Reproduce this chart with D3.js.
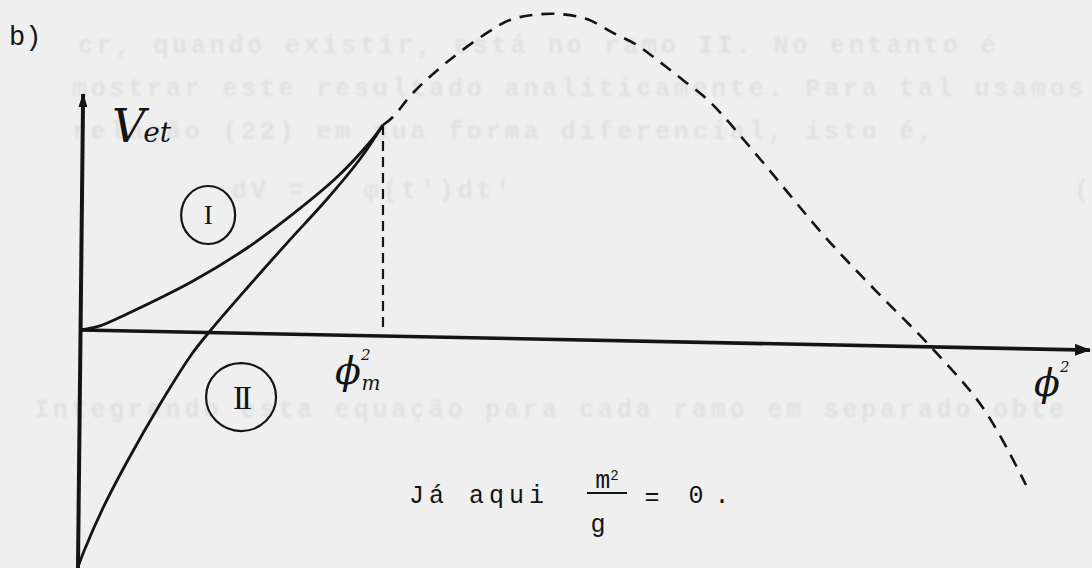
<!DOCTYPE html>
<html>
<head>
<meta charset="utf-8">
<script src="https://cdn.jsdelivr.net/npm/d3@7"></script>
<style>
  html, body { margin: 0; padding: 0; background: #efefef; }
  svg { display: block; }
</style>
</head>
<body>
<svg id="fig" width="1092" height="568"></svg>
<script>
// Branch I: V_et(φ²) from the origin up to φ²_m (convex)
const branchI = [
  [0.000, 0.000], [0.063, 0.020], [0.152, 0.078], [0.371, 0.239],
  [0.550, 0.400], [0.702, 0.566], [0.848, 0.746], [0.957, 0.917], [1.000, 1.000]
];
// Branch II: rises from below the axis to the same point φ²_m (concave)
const branchII = [
  [-0.010, -1.156], [0.010, -1.078], [0.073, -0.868], [0.152, -0.644],
  [0.262, -0.361], [0.367, -0.117], [0.430, 0.000], [0.550, 0.205],
  [0.682, 0.424], [0.815, 0.639], [0.924, 0.834], [1.000, 1.000]
];
// Continuation beyond φ²_m (dashed)
const continuation = [
  [1.000, 1.000], [1.033, 1.039], [1.099, 1.156], [1.212, 1.307],
  [1.344, 1.449], [1.420, 1.512], [1.497, 1.537], [1.586, 1.541],
  [1.675, 1.517], [1.762, 1.449], [1.841, 1.390], [1.917, 1.307],
  [1.993, 1.220], [2.083, 1.112], [2.232, 0.863], [2.464, 0.454],
  [2.636, 0.185], [2.808, -0.073], [2.987, -0.380], [3.129, -0.756]
];
// Hand-drawn axes (slightly tilted)
const axisX = [[0.000, 0.000], [3.341, -0.098]];
const axisY = [[-0.010, -1.161], [0.007, 1.151]];
const phiM = 1.0;          // φ²_m
const branchLabels = [
  { name: "I",  at: [0.421, 0.561], rx: 27, ry: 29, size: 27 },
  { name: "II", at: [0.530, -0.327], rx: 35, ry: 34, size: 33 }
];
// Faint text showing through from the reverse of the page
const reverseLines = [
  { t: "cr, quando existir, está no ramo II. No entanto é", x: 78, y: 53 },
  { t: "mostrar este resultado analiticamente. Para tal usamos", x: 72, y: 96 },
  { t: "relação (22) em sua forma diferencial, isto é,", x: 72, y: 139 },
  { t: "dV   = -   φ(t')dt'", x: 232, y: 198 },
  { t: "(", x: 1074, y: 198 },
  { t: "Integrando esta equação para cada ramo em separado obte", x: 34, y: 417 }
];

const svg = d3.select("#fig");
const W = 1092, H = 568;
const ink = "#141414";

const x = d3.scaleLinear().domain([0, 1]).range([81, 383]);
const y = d3.scaleLinear().domain([0, 1]).range([330, 125]);

const defs = svg.append("defs");
defs.append("filter").attr("id", "bleed")
  .append("feGaussianBlur").attr("stdDeviation", 1.3);
defs.append("marker").attr("id", "headX")
  .attr("viewBox", "0 0 16 12").attr("refX", 15).attr("refY", 6)
  .attr("markerWidth", 16).attr("markerHeight", 12)
  .attr("markerUnits", "userSpaceOnUse").attr("orient", "auto")
  .append("path").attr("d", "M0,0 L16,6 L0,12 Z").attr("fill", ink);
defs.append("marker").attr("id", "headY")
  .attr("viewBox", "0 0 14 9").attr("refX", 13).attr("refY", 4.5)
  .attr("markerWidth", 14).attr("markerHeight", 9)
  .attr("markerUnits", "userSpaceOnUse").attr("orient", "auto")
  .append("path").attr("d", "M0,0 L14,4.5 L0,9 Z").attr("fill", ink);

// paper
svg.append("rect").attr("width", W).attr("height", H).attr("fill", "#efefef");

// reverse-side text
svg.append("g").attr("filter", "url(#bleed)")
  .selectAll("text").data(reverseLines).join("text")
  .attr("x", d => d.x).attr("y", d => d.y)
  .attr("font-family", "Liberation Mono, monospace")
  .attr("font-size", 25).attr("font-weight", "bold").attr("letter-spacing", 3.8)
  .attr("fill", "#e0e0e0")
  .text(d => d.t);

const lineGen = d3.line().x(d => x(d[0])).y(d => y(d[1]));
const curveGen = d3.line().x(d => x(d[0])).y(d => y(d[1])).curve(d3.curveCatmullRom.alpha(0.5));

// axes
svg.append("path").attr("d", lineGen(axisY))
  .attr("stroke", ink).attr("stroke-width", 4).attr("fill", "none")
  .attr("marker-end", "url(#headY)");
svg.append("path").attr("d", lineGen(axisX))
  .attr("stroke", ink).attr("stroke-width", 3.6).attr("fill", "none")
  .attr("marker-end", "url(#headX)");

// branches
svg.append("path").attr("d", curveGen(branchI))
  .attr("stroke", ink).attr("stroke-width", 2.8).attr("fill", "none");
svg.append("path").attr("d", curveGen(branchII))
  .attr("stroke", ink).attr("stroke-width", 2.8).attr("fill", "none");
svg.append("path").attr("d", curveGen(continuation))
  .attr("stroke", ink).attr("stroke-width", 2.6).attr("fill", "none")
  .attr("stroke-dasharray", "13 9");

// drop line at φ²_m
svg.append("path").attr("d", lineGen([[phiM, 1], [phiM, 0]]))
  .attr("stroke", ink).attr("stroke-width", 2.2).attr("fill", "none")
  .attr("stroke-dasharray", "10 6");

// circled branch labels
const bl = svg.selectAll("g.branch").data(branchLabels).join("g")
  .attr("class", "branch")
  .attr("transform", d => `translate(${x(d.at[0])},${y(d.at[1])})`);
bl.append("ellipse").attr("rx", d => d.rx).attr("ry", d => d.ry)
  .attr("fill", "none").attr("stroke", ink).attr("stroke-width", 2.2);
bl.append("text").attr("text-anchor", "middle").attr("dy", "0.35em")
  .attr("font-family", "Liberation Serif, serif").attr("font-size", d => d.size)
  .attr("letter-spacing", d => d.name.length > 1 ? -3 : 0)
  .attr("fill", ink).text(d => d.name);

// axis titles
const vt = svg.append("text").attr("x", 112).attr("y", 142)
  .attr("font-family", "DejaVu Serif, serif").attr("font-style", "italic")
  .attr("fill", ink);
vt.append("tspan").attr("font-size", 46).text("V");
vt.append("tspan").attr("font-size", 28).attr("dx", -2).text("et");

const pm = svg.append("text").attr("x", x(phiM) - 48).attr("y", 384)
  .attr("font-family", "DejaVu Serif, serif").attr("font-style", "italic")
  .attr("fill", ink);
pm.append("tspan").attr("font-size", 38).text("ϕ");
pm.append("tspan").attr("font-size", 15).attr("dy", -24).attr("dx", 0).text("2");
pm.append("tspan").attr("font-size", 20).attr("dy", 30).attr("dx", -9).text("m");

const px = svg.append("text").attr("x", 1034).attr("y", 396)
  .attr("font-family", "DejaVu Serif, serif").attr("font-style", "italic")
  .attr("fill", ink);
px.append("tspan").attr("font-size", 38).text("ϕ");
px.append("tspan").attr("font-size", 15).attr("dy", -24).text("2");

// panel tag
svg.append("text").attr("x", 9).attr("y", 45)
  .attr("font-family", "Liberation Mono, monospace").attr("font-size", 27)
  .attr("fill", ink).text("b)");

// note beneath the plot
const mono = "Liberation Mono, monospace";
svg.append("text").attr("x", 409).attr("y", 503)
  .attr("font-family", mono).attr("font-size", 25).attr("letter-spacing", 5)
  .attr("fill", ink).text("Já aqui");
const num = svg.append("text").attr("x", 607).attr("y", 488).attr("text-anchor", "middle")
  .attr("font-family", mono).attr("fill", ink);
num.append("tspan").attr("font-size", 25).text("m");
num.append("tspan").attr("font-size", 14).attr("dy", -8).text("2");
svg.append("line").attr("x1", 587).attr("x2", 627).attr("y1", 493).attr("y2", 493)
  .attr("stroke", ink).attr("stroke-width", 2);
svg.append("text").attr("x", 598).attr("y", 532).attr("text-anchor", "middle")
  .attr("font-family", mono).attr("font-size", 25).attr("fill", ink).text("g");
svg.append("text").attr("x", 652).attr("y", 505).attr("text-anchor", "middle")
  .attr("font-family", mono).attr("font-size", 25).attr("fill", ink).text("=");
svg.append("text").attr("x", 696).attr("y", 503).attr("text-anchor", "middle")
  .attr("font-family", mono).attr("font-size", 25).attr("fill", ink).text("0");
svg.append("text").attr("x", 722).attr("y", 503).attr("text-anchor", "middle")
  .attr("font-family", mono).attr("font-size", 25).attr("fill", ink).text(".");
</script>
</body>
</html>
